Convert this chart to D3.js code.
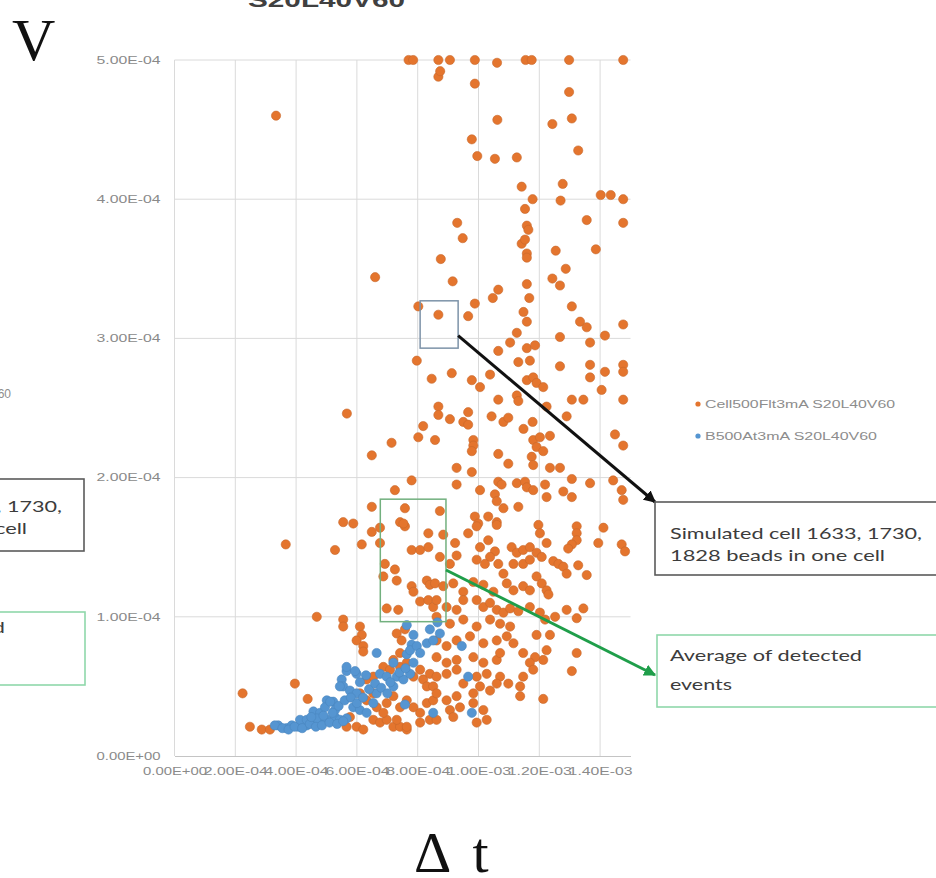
<!DOCTYPE html>
<html>
<head>
<meta charset="utf-8">
<script src="https://cdn.jsdelivr.net/npm/d3@7"></script>
<style>
  html, body { margin: 0; padding: 0; background: #ffffff; }
  svg { display: block; }
</style>
</head>
<body>
<svg id="chart" width="936" height="878"></svg>
<script>
// Values are stored in units of 1e-4 (Δt on x, V on y) and scaled on use.
const UNIT = 1e-4;

const xTicks = [0, 2, 4, 6, 8, 10, 12, 14];
const yTicks = [0, 1, 2, 3, 4, 5];

const seriesNames = ["Cell500Flt3mA S20L40V60", "B500At3mA S20L40V60"];

// Cell500F series [Δt, V]
const cellPoints = [
  [7.70,5.0],[7.85,5.0],[8.68,5.0],[9.06,5.0],[9.88,5.0],[10.61,4.98],[11.55,5.0],[11.75,5.0],[12.98,5.0],[14.76,5.0],
  [8.68,4.88],[8.74,4.92],[9.88,4.83],[12.98,4.77],[10.62,4.57],[12.43,4.54],[13.07,4.58],[9.78,4.43],[13.28,4.35],[9.96,4.31],
  [10.54,4.29],[11.26,4.30],[11.42,4.09],[12.77,4.11],[11.78,4.00],[12.70,3.99],[11.53,3.93],[14.02,4.03],[14.35,4.03],[14.76,4.00],
  [9.30,3.83],[13.56,3.85],[14.76,3.83],[11.59,3.81],[11.64,3.78],[9.48,3.72],[11.42,3.68],[11.53,3.71],[11.59,3.61],[11.59,3.58],
  [8.76,3.57],[12.54,3.63],[13.86,3.64],[12.87,3.50],[9.15,3.41],[12.43,3.43],[12.68,3.38],[11.59,3.39],[10.65,3.35],[10.47,3.29],
  [11.67,3.29],[9.88,3.25],[13.07,3.23],[8.02,3.23],[8.68,3.17],[9.66,3.16],
  [3.34,4.60],[6.60,3.44],[5.67,2.46],
  [11.48,3.19],[11.59,3.12],[13.34,3.12],[13.56,3.08],[14.76,3.10],[11.26,3.04],[11.04,2.97],[12.68,3.01],[13.67,2.97],[14.16,3.02],
  [10.65,2.91],[11.59,2.93],[11.86,2.95],[7.97,2.84],[11.31,2.83],[11.69,2.84],[12.68,2.80],[13.67,2.81],[13.67,2.72],[14.16,2.76],
  [14.76,2.81],[14.76,2.76],[9.12,2.75],[8.46,2.71],[9.78,2.70],[10.05,2.65],[10.38,2.74],[11.59,2.70],[11.80,2.72],[11.91,2.68],
  [12.13,2.65],[14.05,2.63],[10.65,2.56],[11.26,2.59],[11.31,2.55],[12.24,2.51],[13.07,2.56],[13.45,2.56],[14.76,2.56],[8.68,2.51],
  [8.68,2.45],[9.06,2.42],[9.66,2.47],[9.50,2.40],[9.66,2.38],[10.43,2.44],[10.82,2.40],[10.98,2.43],[11.48,2.35],[11.78,2.40],
  [12.90,2.44],[8.18,2.37],[8.02,2.29],[8.57,2.27],[7.14,2.25],[9.83,2.27],[9.83,2.23],[9.78,2.19],[11.80,2.27],[12.02,2.29],
  [12.35,2.30],[11.91,2.22],[12.13,2.19],[11.75,2.15],[11.80,2.09],[14.49,2.31],[14.76,2.23],[10.65,2.17],[10.98,2.10],[9.28,2.07],
  [9.78,2.04],[12.35,2.07],[12.68,2.07],[13.07,1.99],[13.67,1.96],[14.43,1.98],[14.71,1.91],[14.76,1.84],[7.80,1.98],[7.25,1.91],
  [9.28,1.95],[10.05,1.91],[10.65,1.97],[10.76,1.95],[11.26,1.96],[11.53,1.97],[11.59,1.93],[11.80,1.91],[12.19,1.95],[12.24,1.86],
  [12.79,1.90],[13.07,1.86],[10.54,1.88],[10.60,1.83],[8.73,1.76],[7.58,1.78],[10.82,1.78],[11.31,1.79],[9.88,1.72],[9.99,1.67],
  [10.32,1.72],[10.60,1.68],[13.23,1.65],[7.42,1.68],[6.49,2.16],[6.49,1.79],
  [5.55,1.68],[5.88,1.67],[6.49,1.61],[6.76,1.64],[7.58,1.65],[8.35,1.60],[3.66,1.52],[5.28,1.48],[6.16,1.52],[6.76,1.53],[7.53,1.67],
  [6.92,1.38],[7.25,1.34],[6.87,1.29],[7.31,1.26],[7.80,1.48],[8.08,1.48],[8.35,1.50],[7.80,1.22],[7.86,1.18],[8.30,1.26],
  [8.40,1.23],[8.08,1.11],[8.35,1.12],[8.51,1.07],[6.98,1.06],[7.36,1.05],[4.68,1.00],[5.55,0.98],[5.55,0.93],[6.10,0.93],
  [6.16,0.87],[5.99,0.83],[6.21,0.79],[6.21,0.75],[7.31,0.88],[7.58,0.91],[7.47,0.83],[7.42,0.74],[3.96,0.52],[2.24,0.45],
  [4.38,0.41],[6.32,0.55],[6.54,0.57],[2.48,0.21],[2.87,0.19],[3.14,0.19],[5.77,0.28],[5.99,0.21],[6.21,0.19],[5.66,0.21],
  [6.54,0.26],[6.76,0.24],[6.98,0.26],[7.20,0.21],[7.42,0.21],[7.64,0.19],
  [6.10,0.45],[6.32,0.40],[6.54,0.45],[6.65,0.35],[6.87,0.31],[6.98,0.38],[7.20,0.43],[7.42,0.35],[7.64,0.40],[7.86,0.35],
  [8.08,0.31],[8.30,0.38],[8.51,0.40],
  [6.87,0.64],[7.09,0.62],[7.20,0.69],[7.42,0.64],[7.64,0.67],[7.86,0.57],[8.08,0.62],[8.18,0.55],[8.40,0.59],[8.30,0.50],
  [8.51,0.50],[7.31,0.26],[7.64,0.21],[8.08,0.24],[8.40,0.26],
  [8.84,1.59],[8.73,1.43],[9.66,1.60],[9.94,1.65],[10.60,1.66],[10.05,1.50],[10.32,1.55],[10.54,1.47],[10.38,1.43],[10.21,1.38],
  [9.94,1.41],[10.65,1.38],[9.23,1.53],[9.28,1.44],[9.06,1.38],[11.09,1.50],[11.26,1.46],[11.47,1.48],[11.69,1.50],[11.15,1.38],
  [11.47,1.38],[11.69,1.41],[11.97,1.66],[12.02,1.60],[12.24,1.53],[11.91,1.46],[12.08,1.43],[12.46,1.40],[12.63,1.38],[12.79,1.36],
  [12.90,1.31],[13.23,1.60],[13.23,1.55],[13.07,1.52],[12.95,1.49],[14.11,1.64],[13.94,1.53],[14.71,1.52],[14.82,1.47],[13.28,1.37],
  [13.56,1.30],[8.57,1.24],[8.84,1.22],[9.17,1.24],[9.50,1.18],[9.83,1.25],[10.16,1.23],[10.49,1.18],[10.82,1.31],[10.93,1.24],
  [11.15,1.19],[11.47,1.22],[11.69,1.19],[11.91,1.29],[12.08,1.24],[12.24,1.19],[12.30,1.16],[8.62,1.12],[8.95,1.07],[9.28,1.05],
  [9.50,1.12],[9.94,1.12],[10.16,1.07],[10.38,1.10],[10.60,1.05],[10.82,1.03],[11.04,1.06],[11.31,1.04],[11.69,1.07],[12.02,1.03],
  [12.19,0.98],[12.52,1.00],[12.90,1.05],[13.23,0.99],[13.45,1.06],
  [8.62,1.00],[9.06,0.95],[9.50,0.98],[9.94,0.93],[10.38,0.98],[10.71,0.95],[11.04,0.93],[11.91,0.87],[12.35,0.87],[12.24,0.76],
  [12.13,0.69],[11.86,0.71],[13.23,0.74],[13.07,0.61],[8.62,0.83],[8.95,0.79],[9.28,0.83],[9.72,0.86],[10.16,0.81],[10.60,0.83],
  [10.93,0.86],[11.15,0.81],[8.62,0.71],[8.95,0.67],[9.28,0.69],[9.83,0.71],[10.16,0.67],[10.60,0.69],[10.71,0.74],[11.47,0.74],
  [11.69,0.67],[11.80,0.62],[11.47,0.57],[11.37,0.50],[10.98,0.52],[10.71,0.57],[8.62,0.57],[8.95,0.59],[9.28,0.62],[9.50,0.52],
  [9.94,0.57],[10.27,0.59],[10.05,0.50],[10.38,0.47],[10.60,0.52],[8.62,0.45],[8.95,0.40],[9.28,0.43],[9.06,0.33],[9.39,0.35],
  [9.83,0.45],[9.83,0.38],[10.16,0.33],[10.27,0.26],[11.37,0.43],[12.13,0.41],[8.62,0.26],[9.17,0.28],[9.94,0.24]
];

// B500 series [Δt, V]
const beadPoints = [
  [6.65,0.74],[7.64,0.94],[7.86,0.87],[7.80,0.80],[7.64,0.73],[5.66,0.61],[5.99,0.59],[5.01,0.40],[5.22,0.39],[5.50,0.55],[5.55,0.50],
  [3.41,0.22],[3.69,0.20],[3.86,0.22],[4.07,0.21],[4.35,0.22],[4.57,0.24],[4.79,0.25],[5.01,0.26],[5.28,0.28],[5.44,0.26],[5.66,0.27],
  [4.57,0.32],[4.79,0.31],[4.95,0.35],[5.12,0.39],[5.28,0.33],[4.13,0.26],[4.35,0.26],[4.68,0.27],[5.66,0.64],[5.94,0.61],
  [5.44,0.50],[5.77,0.47],[5.99,0.45],[5.88,0.35],[6.10,0.33],[6.32,0.31],[6.54,0.38],[6.65,0.45],
  [6.76,0.59],[6.98,0.57],[7.20,0.50],[7.31,0.57],[7.53,0.55],[7.75,0.59],[7.58,0.37],[7.86,0.67],
  [7.75,0.76],[7.97,0.79],[8.08,0.74],[8.30,0.81],[8.40,0.91],[8.51,0.83],
  [8.73,0.88],[9.45,0.79],[9.66,0.57],[9.78,0.31],[8.51,0.31],[8.65,0.96],
  [3.30,0.22],[3.55,0.20],[3.75,0.19],[3.95,0.21],[4.20,0.20],[4.45,0.23],[4.65,0.21],[4.85,0.22],[5.10,0.24],[5.35,0.23],
  [5.55,0.25],[4.50,0.28],[4.90,0.29],[5.20,0.31],[5.40,0.36],[5.60,0.40],[5.80,0.42],[6.00,0.38],[6.20,0.42],[6.40,0.48],
  [6.60,0.52],[6.80,0.49],[7.00,0.45],[7.10,0.53],[7.40,0.60],[7.60,0.63],[7.20,0.67],[6.30,0.58],[6.10,0.53]
];

const svg = d3.select("#chart");

const x = d3.scaleLinear().domain([0, 15 * UNIT]).range([174.5, 630.5]);
const y = d3.scaleLinear().domain([0, 5 * UNIT]).range([756, 60]);

function sci(v) {
  const [m, e] = v.toExponential(2).split("e");
  const n = +e;
  return m + "E" + (n < 0 ? "-" : "+") + String(Math.abs(n)).padStart(2, "0");
}

const labelColor = "#8a8a8a";
const gridColor = "#dadada";

// gridlines
svg.append("g")
  .selectAll("line.h")
  .data(yTicks.filter(t => t > 0))
  .join("line")
  .attr("x1", x(0)).attr("x2", x(15 * UNIT))
  .attr("y1", d => y(d * UNIT)).attr("y2", d => y(d * UNIT))
  .attr("stroke", gridColor).attr("stroke-width", 1);

svg.append("g")
  .selectAll("line.v")
  .data(xTicks)
  .join("line")
  .attr("x1", d => x(d * UNIT)).attr("x2", d => x(d * UNIT))
  .attr("y1", y(0)).attr("y2", y(5 * UNIT))
  .attr("stroke", gridColor).attr("stroke-width", 1);

// x axis
const xAxis = svg.append("g")
  .attr("transform", `translate(0,${y(0)})`)
  .call(d3.axisBottom(x).tickValues(xTicks.map(t => t * UNIT)).tickFormat(sci).tickSize(0).tickPadding(12));
xAxis.select(".domain").attr("stroke", "#c4c4c4").attr("stroke-width", 1.2);
xAxis.selectAll("text")
  .attr("fill", labelColor)
  .style("font-family", "'Liberation Sans', Arial, sans-serif")
  .style("font-size", "10px")
  .attr("textLength", 64).attr("lengthAdjust", "spacingAndGlyphs");

// y axis
const yAxis = svg.append("g")
  .attr("transform", `translate(${x(0)},0)`)
  .call(d3.axisLeft(y).tickValues(yTicks.map(t => t * UNIT)).tickFormat(sci).tickSize(0).tickPadding(14));
yAxis.select(".domain").remove();
yAxis.selectAll("text")
  .attr("fill", labelColor)
  .style("font-family", "'Liberation Sans', Arial, sans-serif")
  .style("font-size", "10px")
  .attr("textLength", 64).attr("lengthAdjust", "spacingAndGlyphs");

// data points
const orange = "#E4752E";
const blue = "#5595D1";

svg.append("g")
  .selectAll("circle")
  .data(cellPoints)
  .join("circle")
  .attr("cx", d => x(d[0] * UNIT))
  .attr("cy", d => y(d[1] * UNIT))
  .attr("r", 4.6)
  .attr("fill", orange)
  .attr("stroke", "#c8682c").attr("stroke-width", 0.6);

svg.append("g")
  .selectAll("circle")
  .data(beadPoints)
  .join("circle")
  .attr("cx", d => x(d[0] * UNIT))
  .attr("cy", d => y(d[1] * UNIT))
  .attr("r", 4.6)
  .attr("fill", blue)
  .attr("stroke", "#4a86bf").attr("stroke-width", 0.6);

// highlighted regions (data units)
svg.append("rect")
  .attr("x", x(8.08 * UNIT)).attr("y", y(3.27 * UNIT))
  .attr("width", x(9.33 * UNIT) - x(8.08 * UNIT))
  .attr("height", y(2.93 * UNIT) - y(3.27 * UNIT))
  .attr("fill", "none").attr("stroke", "#7d93a8").attr("stroke-width", 1.5);

svg.append("rect")
  .attr("x", x(6.77 * UNIT)).attr("y", y(1.845 * UNIT))
  .attr("width", x(8.93 * UNIT) - x(6.77 * UNIT))
  .attr("height", y(0.965 * UNIT) - y(1.845 * UNIT))
  .attr("fill", "none").attr("stroke", "#72b07e").attr("stroke-width", 1.5);

// arrowheads
const defs = svg.append("defs");
function arrow(id, color) {
  defs.append("marker")
    .attr("id", id).attr("viewBox", "0 0 10 10")
    .attr("refX", 9).attr("refY", 5)
    .attr("markerWidth", 4).attr("markerHeight", 4)
    .attr("orient", "auto")
    .append("path").attr("d", "M0,0 L10,5 L0,10 z").attr("fill", color);
}
arrow("arrowBlack", "#111111");
arrow("arrowGreen", "#1f9e4a");

svg.append("line")
  .attr("x1", x(9.33 * UNIT)).attr("y1", y(3.02 * UNIT))
  .attr("x2", 655).attr("y2", 502)
  .attr("stroke", "#111111").attr("stroke-width", 3)
  .attr("marker-end", "url(#arrowBlack)");

svg.append("line")
  .attr("x1", x(8.93 * UNIT)).attr("y1", y(1.336 * UNIT))
  .attr("x2", 655).attr("y2", 675)
  .attr("stroke", "#1f9e4a").attr("stroke-width", 3)
  .attr("marker-end", "url(#arrowGreen)");

// legend
const legend = svg.append("g").style("font-family", "'Liberation Sans', Arial, sans-serif").style("font-size", "10px");
const legendRows = [
  { name: seriesNames[0], color: orange, y: 404, len: 190 },
  { name: seriesNames[1], color: blue, y: 436, len: 172 }
];
legendRows.forEach(r => {
  legend.append("circle").attr("cx", 698).attr("cy", r.y).attr("r", 2.6).attr("fill", r.color);
  legend.append("text").attr("x", 705).attr("y", r.y + 3.5)
    .attr("fill", "#8d8d8d").attr("textLength", r.len).attr("lengthAdjust", "spacingAndGlyphs")
    .text(r.name);
});

// callout boxes
const calloutFont = "Lato, 'Open Sans', sans-serif";
function calloutText(xPos, yPos, str, len, anchor) {
  svg.append("text").attr("x", xPos).attr("y", yPos).attr("fill", "#3c3c3c")
    .attr("text-anchor", anchor || "start")
    .style("font-family", calloutFont).style("font-size", "15px")
    .attr("textLength", len).attr("lengthAdjust", "spacingAndGlyphs")
    .text(str);
}

svg.append("rect").attr("x", 655).attr("y", 502).attr("width", 300).attr("height", 73)
  .attr("fill", "#ffffff").attr("stroke", "#5a5a5a").attr("stroke-width", 1.6);
calloutText(670, 539, "Simulated cell 1633, 1730,", 252);
calloutText(670, 561, "1828 beads in one cell", 215);

svg.append("rect").attr("x", 657).attr("y", 635).attr("width", 300).attr("height", 72)
  .attr("fill", "#ffffff").attr("stroke", "#8fd8aa").attr("stroke-width", 1.6);
calloutText(670, 661, "Average of detected", 192);
calloutText(670, 690, "events", 62);

// neighbouring panel pieces on the left edge
svg.append("rect").attr("x", -220).attr("y", 479).attr("width", 304).attr("height", 72)
  .attr("fill", "#ffffff").attr("stroke", "#5a5a5a").attr("stroke-width", 1.6);
calloutText(62, 512, "Simulated cell 1633, 1730,", 252, "end");
calloutText(27, 534, "1828 beads in one cell", 215, "end");

svg.append("rect").attr("x", -220).attr("y", 612).attr("width", 305).attr("height", 73)
  .attr("fill", "#ffffff").attr("stroke", "#8fd8aa").attr("stroke-width", 1.6);
calloutText(5, 633, "Average of detected", 192, "end");

svg.append("text").attr("x", 11).attr("y", 398).attr("text-anchor", "end").attr("fill", "#8d8d8d")
  .style("font-family", "'Liberation Sans', Arial, sans-serif").style("font-size", "12px")
  .text("S20L40V60");

// title (partly above the frame) and axis letters
svg.append("text").attr("x", 248).attr("y", 7).attr("fill", "#404040")
  .style("font-family", "'Liberation Sans', Arial, sans-serif").style("font-size", "20px").style("font-weight", "bold")
  .attr("textLength", 157).attr("lengthAdjust", "spacingAndGlyphs")
  .text("S20L40V60");

svg.append("text").attr("x", 12).attr("y", 60).attr("fill", "#111111")
  .style("font-family", "'Liberation Serif', 'DejaVu Serif', serif").style("font-size", "60px")
  .text("V");

svg.append("text").attr("x", 414).attr("y", 872).attr("fill", "#111111")
  .style("font-family", "'Liberation Serif', 'DejaVu Serif', serif").style("font-size", "58px")
  .style("word-spacing", "10px")
  .text("Δ t");
</script>
</body>
</html>
